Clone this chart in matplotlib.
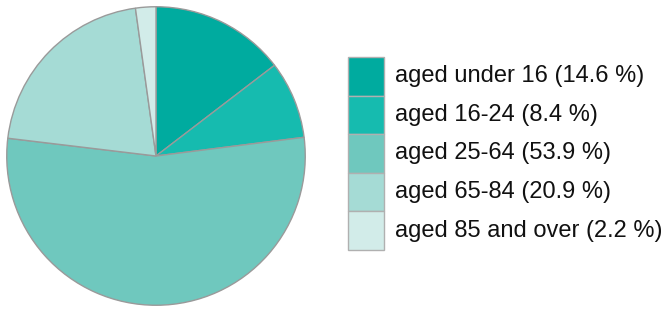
import matplotlib.pyplot as plt
from matplotlib.patches import Rectangle

labels = ["aged under 16", "aged 16-24", "aged 25-64", "aged 65-84", "aged 85 and over"]
shares = [14.6, 8.4, 53.9, 20.9, 2.2]
colors = ["#00ab9f", "#16bbaf", "#6fc8be", "#a5dbd5", "#d2ece9"]

W, H = 668, 309
fig = plt.figure(figsize=(W / 100, H / 100), dpi=100)
plt.rcParams["font.family"] = ["Liberation Sans", "DejaVu Sans"]

# pie
ax = fig.add_axes([6 / W, (H - 306) / H, 300 / W, 300 / H])
ax.pie(
    shares,
    colors=colors,
    startangle=90,
    counterclock=False,
    wedgeprops=dict(edgecolor="#9a9a9a", linewidth=1),
)
ax.set_xlim(-1.005, 1.005)
ax.set_ylim(-1.005, 1.005)
ax.axis("off")

# legend drawn as boxes in pixel coordinates
lax = fig.add_axes([0, 0, 1, 1])
lax.set_xlim(0, W)
lax.set_ylim(H, 0)
lax.axis("off")
top, step = 57, 38.6
for i, (lab, val, col) in enumerate(zip(labels, shares, colors)):
    y0 = top + i * step
    lax.add_patch(Rectangle((348, y0), 36, step, facecolor=col,
                            edgecolor="#b0b0b0", linewidth=1))
    lax.text(395, y0 + step / 2, f"{lab} ({val} %)", fontsize=17,
             va="center", ha="left", color="#111111")

fig.savefig("out.png", dpi=100)
